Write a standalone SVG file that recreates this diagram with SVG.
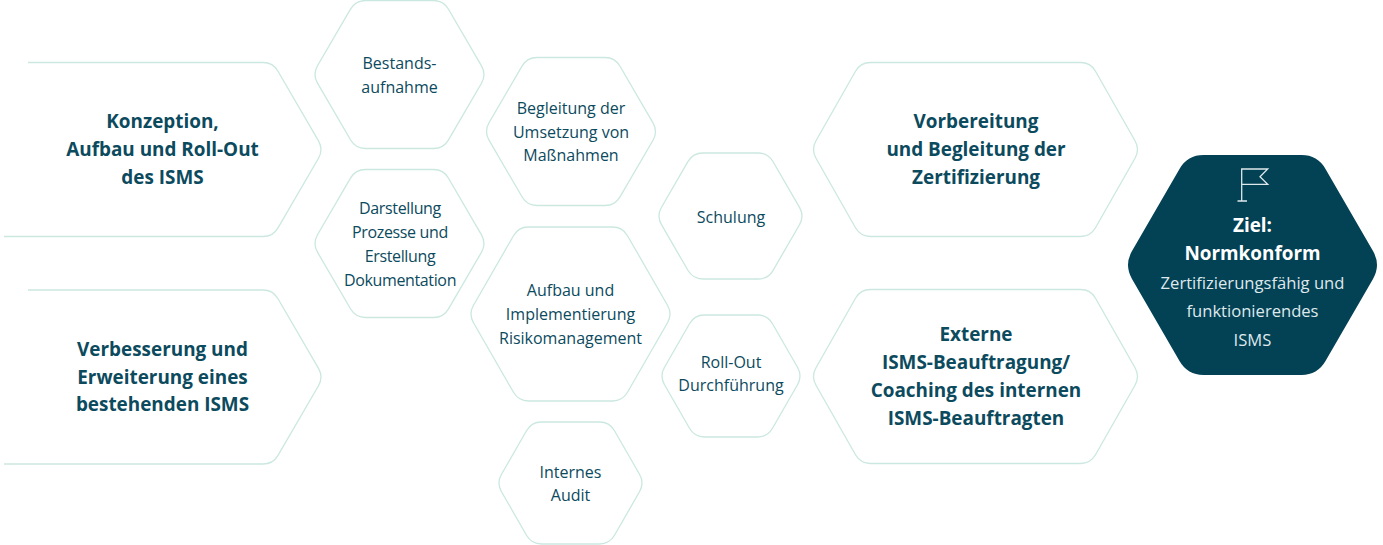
<svg xmlns="http://www.w3.org/2000/svg" xmlns:xlink="http://www.w3.org/1999/xlink" width="1383" height="545" viewBox="0 0 1383 545">
<style>
.h{fill:#fff;stroke:#cbe8e0;stroke-width:1.3}
.o{fill:none;stroke:#cbe8e0;stroke-width:1.3}
text{font-family:"Open Sans","Noto Sans",sans-serif;text-anchor:middle;fill:#0c4a5e}
.s{font-size:16px}
.d{font-size:16px;letter-spacing:-.36px}
.b{font-size:18.9px;font-weight:700}
.w{fill:#fff}
.l{fill:#dfe9ec;font-size:16.6px}
</style>
<defs>
<path id="a" d="M-34 -74H34Q44 -74 49 -65.3L82 -8.7Q87 0 82 8.7L49 65.3Q44 74 34 74H-34Q-44 74 -49 65.3L-82 8.7Q-87 0 -82 -8.7L-49 -65.3Q-44 -74 -34 -74Z"/>
<path id="big" d="M-105 -87H105Q115 -87 120 -78.3L159.5 -8.7Q164.5 0 159.5 8.7L120 78.3Q115 87 105 87H-105Q-115 87 -120 78.3L-159.5 8.7Q-164.5 0 -159.5 -8.7L-120 -78.3Q-115 -87 -105 -87Z"/>
<path id="left" d="M28 62.5H263Q273 62.5 278 71.2L318.5 140.8Q323.5 149.5 318.5 158.2L278 227.8Q273 236.5 263 236.5H4"/>
</defs>
<g id="node-konzeption"><use xlink:href="#left" href="#left" class="o"/>
<text class="b"><tspan x="162.5" y="128">Konzeption,</tspan><tspan x="162.5" y="156">Aufbau und Roll-Out</tspan><tspan x="162.5" y="184">des ISMS</tspan></text></g>
<g id="node-verbesserung"><use xlink:href="#left" href="#left" y="227.5" class="o"/>
<text class="b"><tspan x="162.5" y="356">Verbesserung und</tspan><tspan x="162.5" y="384">Erweiterung eines</tspan><tspan x="162.5" y="411">bestehenden ISMS</tspan></text></g>
<g id="node-bestand"><use xlink:href="#a" href="#a" x="399.5" y="74.5" class="h"/>
<text class="s"><tspan x="399.5" y="69">Bestands-</tspan><tspan x="399.5" y="93">aufnahme</tspan></text></g>
<g id="node-darstellung"><use xlink:href="#a" href="#a" x="399.5" y="243.5" class="h"/>
<text class="d"><tspan x="400" y="214">Darstellung</tspan><tspan x="400" y="238">Prozesse und</tspan><tspan x="400" y="262">Erstellung</tspan><tspan x="400" y="286">Dokumentation</tspan></text></g>
<g id="node-begleitung"><use xlink:href="#a" href="#a" x="571" y="131.5" class="h"/>
<text class="s"><tspan x="571" y="114">Begleitung der</tspan><tspan x="571" y="138">Umsetzung von</tspan><tspan x="571" y="161">Maßnahmen</tspan></text></g>
<g id="node-aufbau"><path class="h" transform="translate(570.5 314)" d="M-42 -87H42Q52 -87 57 -78.3L97 -8.7Q102 0 97 8.7L57 78.3Q52 87 42 87H-42Q-52 87 -57 78.3L-97 8.7Q-102 0 -97 -8.7L-57 -78.3Q-52 -87 -42 -87Z"/>
<text class="s"><tspan x="570.5" y="296">Aufbau und</tspan><tspan x="570.5" y="320">Implementierung</tspan><tspan x="570.5" y="344">Risikomanagement</tspan></text></g>
<g id="node-audit"><path class="h" transform="translate(570.5 483)" d="M-29 -61H29Q39 -61 44 -52.3L69 -8.7Q74 0 69 8.7L44 52.3Q39 61 29 61H-29Q-39 61 -44 52.3L-69 8.7Q-74 0 -69 -8.7L-44 -52.3Q-39 -61 -29 -61Z"/>
<text class="s"><tspan x="570.5" y="478">Internes</tspan><tspan x="570.5" y="501">Audit</tspan></text></g>
<g id="node-schulung"><path class="h" transform="translate(730.5 216)" d="M-27.6 -63H27.6Q37.6 -63 42.6 -54.3L69 -8.7Q74 0 69 8.7L42.6 54.3Q37.6 63 27.6 63H-27.6Q-37.6 63 -42.6 54.3L-69 8.7Q-74 0 -69 -8.7L-42.6 -54.3Q-37.6 -63 -27.6 -63Z"/>
<text class="s"><tspan x="731" y="223">Schulung</tspan></text></g>
<g id="node-rollout"><path class="h" transform="translate(731 376)" d="M-26.5 -61H26.5Q36.5 -61 41.5 -52.3L66.5 -8.7Q71.5 0 66.5 8.7L41.5 52.3Q36.5 61 26.5 61H-26.5Q-36.5 61 -41.5 52.3L-66.5 8.7Q-71.5 0 -66.5 -8.7L-41.5 -52.3Q-36.5 -61 -26.5 -61Z"/>
<text class="s"><tspan x="731" y="368">Roll-Out</tspan><tspan x="731" y="391">Durchführung</tspan></text></g>
<g id="node-vorbereitung"><use xlink:href="#big" href="#big" x="975.5" y="149.5" class="h"/>
<text class="b"><tspan x="976" y="128">Vorbereitung</tspan><tspan x="976" y="156">und Begleitung der</tspan><tspan x="976" y="184">Zertifizierung</tspan></text></g>
<g id="node-externe"><use xlink:href="#big" href="#big" x="975.5" y="376.5" class="h"/>
<text class="b"><tspan x="976" y="341">Externe</tspan><tspan x="976" y="369">ISMS-Beauftragung/</tspan><tspan x="976" y="397">Coaching des internen</tspan><tspan x="976" y="425">ISMS-Beauftragten</tspan></text></g>
<g id="node-ziel"><path fill="#034155" transform="translate(1252.5 265)" d="M-49 -110H49Q65 -110 73 -96.1L120.5 -13.9Q128.5 0 120.5 13.9L73 96.1Q65 110 49 110H-49Q-65 110 -73 96.1L-120.5 13.9Q-128.5 0 -120.5 -13.9L-73 -96.1Q-65 -110 -49 -110Z"/>
<path fill="none" stroke="#dfe9ec" stroke-width="1.3" d="M1241.7 201V169H1267.7L1260 176.7L1267.7 184.3H1242M1237.5 201H1247"/>
<text class="b"><tspan class="w" x="1252.5" y="232">Ziel:</tspan><tspan class="w" x="1252.5" y="260">Normkonform</tspan></text>
<text class="l"><tspan x="1252.5" y="289">Zertifizierungsfähig und</tspan><tspan x="1252.5" y="317">funktionierendes</tspan><tspan x="1252.5" y="346">ISMS</tspan></text></g>
<g id="connectors"/>
</svg>
